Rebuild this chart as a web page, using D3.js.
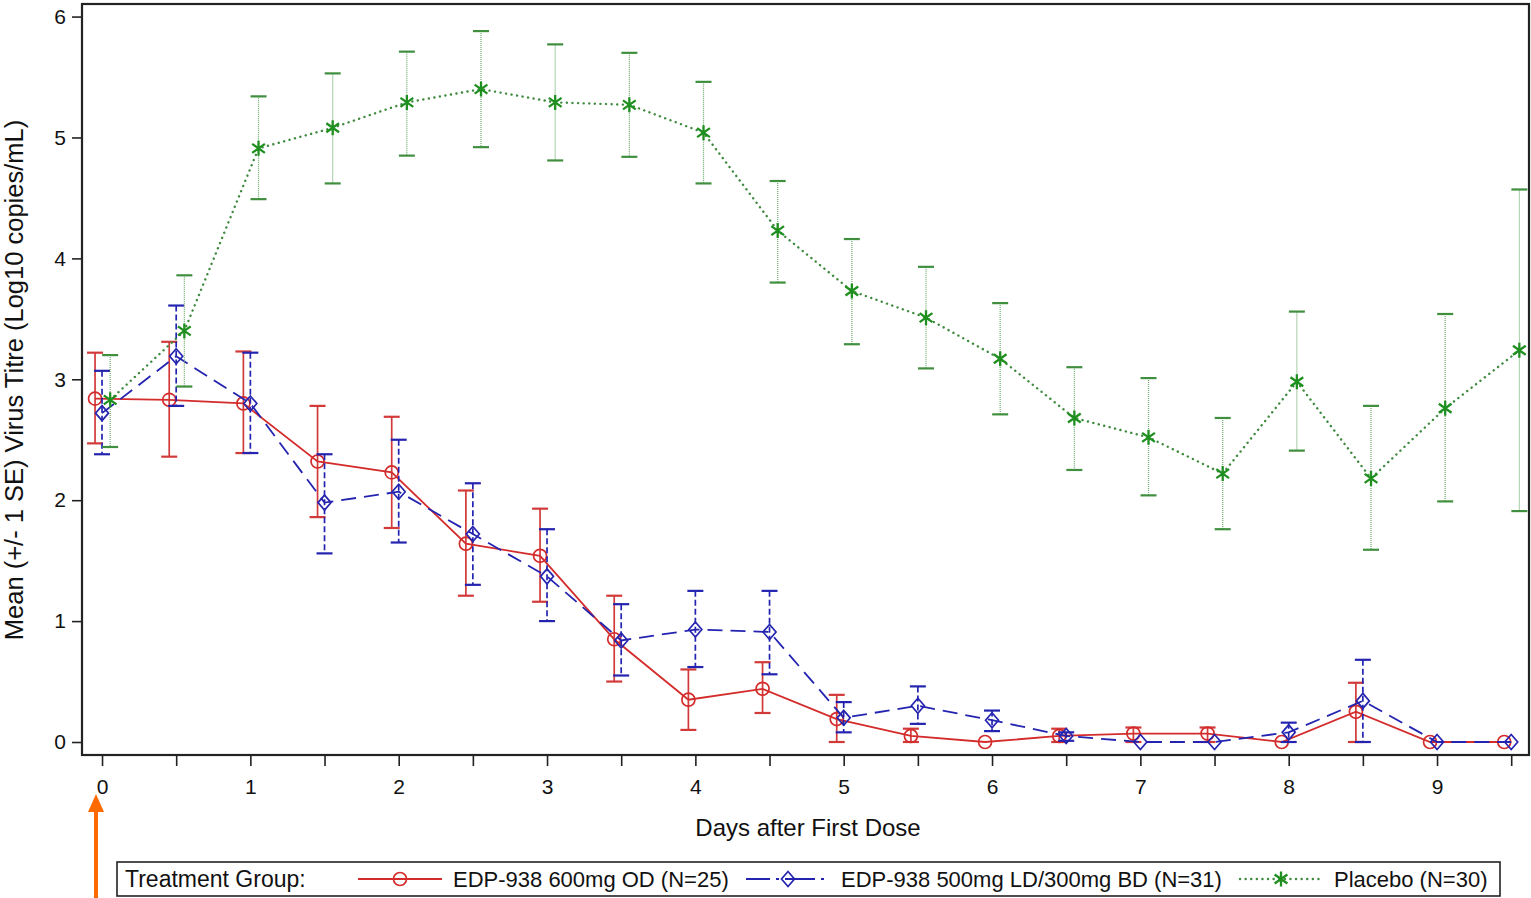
<!DOCTYPE html>
<html>
<head>
<meta charset="utf-8">
<script src="https://cdn.jsdelivr.net/npm/d3@7"></script>
<style>
  body { margin: 0; background: #fff; }
  svg text { font-family: "Liberation Sans", Arial, sans-serif; fill: #111; }
</style>
</head>
<body>
<svg id="my_dataviz"></svg>
<script>
//------ Données ------
var jours = [0, 0.5, 1, 1.5, 2, 2.5, 3, 3.5, 4, 4.5, 5, 5.5, 6, 6.5, 7, 7.5, 8, 8.5, 9, 9.5];
var joursLabels = ["0", "", "1", "", "2", "", "3", "", "4", "", "5", "", "6", "", "7", "", "8", "", "9", ""];
var yTicks = [0, 1, 2, 3, 4, 5, 6];

// EDP-938 600mg OD
var moyOD  = [2.84, 2.83, 2.80, 2.32, 2.23, 1.64, 1.54, 0.85, 0.35, 0.44, 0.19, 0.05, 0.00, 0.05, 0.07, 0.07, 0.00, 0.25, 0.00, 0.00];
var hautOD = [3.22, 3.31, 3.23, 2.78, 2.69, 2.08, 1.93, 1.21, 0.60, 0.66, 0.39, 0.11, 0.00, 0.11, 0.12, 0.12, 0.00, 0.49, 0.00, 0.00];
var basOD  = [2.47, 2.36, 2.39, 1.86, 1.77, 1.21, 1.16, 0.50, 0.10, 0.24, 0.00, 0.00, 0.00, 0.00, 0.00, 0.00, 0.00, 0.00, 0.00, 0.00];

// EDP-938 500mg LD/300mg BD
var moyBD  = [2.72, 3.19, 2.80, 1.98, 2.07, 1.72, 1.37, 0.84, 0.93, 0.91, 0.20, 0.30, 0.18, 0.05, 0.00, 0.00, 0.08, 0.34, 0.00, 0.00];
var hautBD = [3.07, 3.61, 3.22, 2.38, 2.50, 2.14, 1.76, 1.14, 1.25, 1.25, 0.33, 0.46, 0.26, 0.08, 0.00, 0.00, 0.16, 0.68, 0.00, 0.00];
var basBD  = [2.38, 2.78, 2.39, 1.56, 1.65, 1.30, 1.00, 0.55, 0.62, 0.56, 0.08, 0.15, 0.09, 0.01, 0.00, 0.00, 0.00, 0.00, 0.00, 0.00];

// Placebo
var moyPl  = [2.83, 3.40, 4.91, 5.08, 5.29, 5.40, 5.29, 5.27, 5.04, 4.23, 3.73, 3.51, 3.17, 2.68, 2.52, 2.22, 2.98, 2.18, 2.76, 3.24];
var hautPl = [3.20, 3.86, 5.34, 5.53, 5.71, 5.88, 5.77, 5.70, 5.46, 4.64, 4.16, 3.93, 3.63, 3.10, 3.01, 2.68, 3.56, 2.78, 3.54, 4.57];
var basPl  = [2.44, 2.94, 4.49, 4.62, 4.85, 4.92, 4.81, 4.84, 4.62, 3.80, 3.29, 3.09, 2.71, 2.25, 2.04, 1.76, 2.41, 1.59, 1.99, 1.91];

var groupes = ["EDP-938 600mg OD (N=25)", "EDP-938 500mg LD/300mg BD (N=31)", "Placebo (N=30)"];

//------ Rendre le graphique ------
var width = 1531,
    height = 898;

var svg = d3.select("#my_dataviz")
    .attr("width", width)
    .attr("height", height);

// cadre du graphique (pas de "top" : window.top existe deja)
var bordG = 82, bordD = 1529, bordH = 4, bordB = 755;

var x = d3.scaleLinear().domain([-0.135, 9.62]).range([bordG, bordD]);
var y = d3.scaleLinear().domain([-0.1075, 6.104]).range([bordB, bordH]);

// axe x
var xAxis = svg.append("g")
    .attr("transform", "translate(0," + bordB + ")")
    .call(d3.axisBottom(x).tickValues(jours).tickSize(11).tickSizeOuter(0).tickPadding(13)
        .tickFormat((d, i) => joursLabels[i]));
xAxis.select(".domain").remove();
xAxis.selectAll("line").attr("stroke", "#222").attr("stroke-width", 1.6);
xAxis.selectAll("text").attr("font-size", 21).style("fill", "#111");

// axe y
var yAxis = svg.append("g")
    .attr("transform", "translate(" + bordG + ",0)")
    .call(d3.axisLeft(y).tickValues(yTicks).tickSize(10).tickSizeOuter(0).tickPadding(6)
        .tickFormat(d3.format("d")));
yAxis.select(".domain").remove();
yAxis.selectAll("line").attr("stroke", "#222").attr("stroke-width", 1.6);
yAxis.selectAll("text").attr("font-size", 21).style("fill", "#111");

// cadre
svg.append("rect")
    .attr("x", bordG).attr("y", bordH)
    .attr("width", bordD - bordG).attr("height", bordB - bordH)
    .attr("fill", "none").attr("stroke", "#222").attr("stroke-width", 2.2);

// titres des axes
svg.append("text")
    .attr("x", 808).attr("y", 836)
    .attr("text-anchor", "middle").attr("font-size", 24)
    .text("Days after First Dose");

svg.append("text")
    .attr("transform", "translate(23,380) rotate(-90)")
    .attr("text-anchor", "middle").attr("font-size", 25.5)
    .text("Mean (+/- 1 SE) Virus Titre (Log10 copies/mL)");

//-- symboles --
function cercle(g, cx, cy, coul) {
    g.append("circle").attr("cx", cx).attr("cy", cy).attr("r", 6.5)
        .attr("fill", "none").attr("stroke", coul).attr("stroke-width", 1.7);
}
function losange(g, cx, cy, coul) {
    g.append("path")
        .attr("d", "M" + cx + "," + (cy - 7.5) + "L" + (cx + 6.5) + "," + cy + "L" + cx + "," + (cy + 7.5) + "L" + (cx - 6.5) + "," + cy + "Z")
        .attr("fill", "none").attr("stroke", coul).attr("stroke-width", 1.7);
}
function etoile(g, cx, cy, coul) {
    var s = 7.5;
    g.append("path")
        .attr("d", "M" + cx + "," + (cy - s) + "L" + cx + "," + (cy + s) +
            "M" + (cx - s * 0.85) + "," + (cy - s * 0.6) + "L" + (cx + s * 0.85) + "," + (cy + s * 0.6) +
            "M" + (cx - s * 0.85) + "," + (cy + s * 0.6) + "L" + (cx + s * 0.85) + "," + (cy - s * 0.6))
        .attr("fill", "none").attr("stroke", coul).attr("stroke-width", 2.3);
}

// series
var series = [
    { moy: moyOD, haut: hautOD, bas: basOD, dx: -0.047, coul: "#d42b2b", barre: "#d23a3a",
      trait: null, barreTrait: null, largeur: 1.8, symb: cercle },
    { moy: moyBD, haut: hautBD, bas: basBD, dx: 0, coul: "#2424b0", barre: "#2424b0",
      trait: "15,8", barreTrait: "6,3", largeur: 1.8, symb: losange },
    { moy: moyPl, haut: hautPl, bas: basPl, dx: 0.055, coul: "#1f8f1f", barre: "#3f8f3f",
      trait: "0.1,5.5", barreTrait: "1,1", largeur: 2.4, symb: etoile }
];

var ligne = d3.line().x(d => d[0]).y(d => d[1]);

series.forEach(function (s, k) {
    var g = svg.append("g").attr("class", "serie-" + k);
    var pts = jours.map((j, i) => [x(j + s.dx), y(s.moy[i])]);

    // barres d'erreur
    jours.forEach(function (j, i) {
        if (s.haut[i] - s.bas[i] < 0.005) return;
        var cx = x(j + s.dx);
        g.append("line")
            .attr("x1", cx).attr("x2", cx)
            .attr("y1", y(s.haut[i])).attr("y2", y(s.bas[i]))
            .attr("stroke", k == 2 ? "#6aaa6a" : s.barre)
            .attr("stroke-width", k == 2 ? 1.2 : 1.7)
            .attr("stroke-dasharray", s.barreTrait);
        [s.haut[i], s.bas[i]].forEach(function (v) {
            g.append("line")
                .attr("x1", cx - 8).attr("x2", cx + 8)
                .attr("y1", y(v)).attr("y2", y(v))
                .attr("stroke", s.barre).attr("stroke-width", 2.2);
        });
    });

    // ligne
    g.append("path")
        .attr("d", ligne(pts))
        .attr("fill", "none")
        .attr("stroke", k == 2 ? "#3f8a3f" : s.coul)
        .attr("stroke-width", s.largeur)
        .attr("stroke-linecap", k == 2 ? "round" : "butt")
        .attr("stroke-dasharray", s.trait);

    // symboles
    pts.forEach(p => s.symb(g, p[0], p[1], s.coul));
});

//-- légende --
var leg = svg.append("g").attr("class", "legende");
leg.append("rect")
    .attr("x", 117).attr("y", 862).attr("width", 1383).attr("height", 34)
    .attr("fill", "#fff").attr("stroke", "#222").attr("stroke-width", 1.6);
leg.append("text").attr("x", 125).attr("y", 887).attr("font-size", 23).text("Treatment Group:");

var legX = [[358, 442, 453], [746, 830, 841], [1240, 1322, 1334]];
series.forEach(function (s, k) {
    var lx = legX[k];
    leg.append("line")
        .attr("x1", lx[0]).attr("x2", lx[1]).attr("y1", 879).attr("y2", 879)
        .attr("stroke", k == 2 ? "#3f8a3f" : s.coul)
        .attr("stroke-width", s.largeur)
        .attr("stroke-linecap", k == 2 ? "round" : "butt")
        .attr("stroke-dasharray", k == 1 ? "24,6,3,6,30,6,3" : s.trait);
    s.symb(leg, (lx[0] + lx[1]) / 2, 879, s.coul);
    leg.append("text").attr("x", lx[2]).attr("y", 887).attr("font-size", 22).text(groupes[k]);
});

//-- flèche orange --
svg.append("line")
    .attr("x1", 96).attr("x2", 96).attr("y1", 898).attr("y2", 810)
    .attr("stroke", "#ff6a00").attr("stroke-width", 4);
svg.append("path")
    .attr("d", "M96,794L104,812L88,812Z")
    .attr("fill", "#ff6a00");
</script>
</body>
</html>
